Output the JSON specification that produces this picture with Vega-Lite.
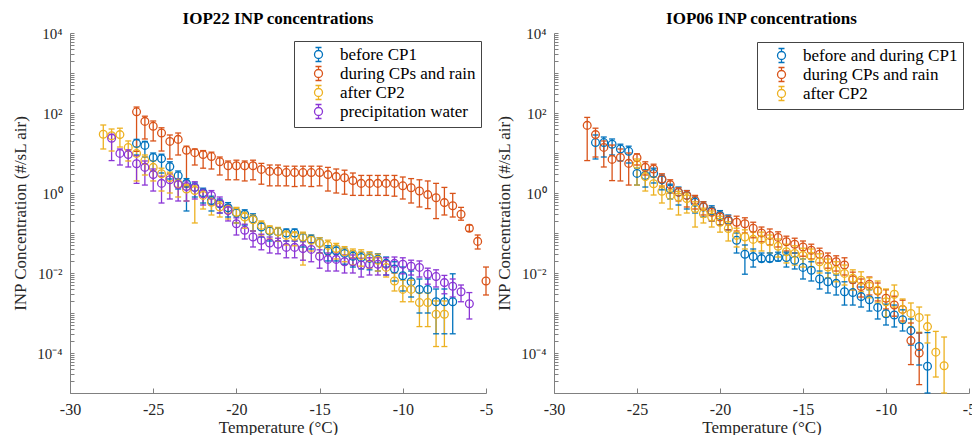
{
 "$schema": "https://vega.github.io/schema/vega-lite/v6.json",
 "background": "white",
 "padding": {"left": 11, "top": 10, "right": 0, "bottom": 0},
 "spacing": 2,
 "config": {
  "view": {"stroke": null},
  "font": "Liberation Serif",
  "title": {"font": "Liberation Serif", "fontSize": 17, "fontWeight": "bold", "color": "#000000", "offset": -2, "anchor": "middle"},
  "axis": {"domainColor": "#808080", "tickColor": "#808080", "domainWidth": 1, "tickWidth": 1, "labelColor": "#262626", "titleColor": "#262626", "labelFont": "Liberation Serif", "titleFont": "Liberation Serif", "labelFontSize": 16, "titleFontSize": 17, "titleFontWeight": "normal", "grid": false, "labelOverlap": false, "labelFlush": false}
 },
 "resolve": {"scale": {"color": "independent"}, "legend": {"color": "independent"}},
 "datasets": {
  "iop22": [
   {"s":"before CP1","t":-26,"v":17.4,"lo":8.91,"hi":21.9},
   {"s":"before CP1","t":-25.5,"v":15.5,"lo":7.94,"hi":19.5},
   {"s":"before CP1","t":-25,"v":7.76,"lo":3.55,"hi":10.0},
   {"s":"before CP1","t":-24.5,"v":7.24,"lo":3.16,"hi":9.33},
   {"s":"before CP1","t":-24,"v":4.57,"lo":2.24,"hi":6.03},
   {"s":"before CP1","t":-23.5,"v":2.69,"lo":1.26,"hi":3.55},
   {"s":"before CP1","t":-23,"v":1.74,"lo":0.355,"hi":2.29},
   {"s":"before CP1","t":-22.5,"v":1.38,"lo":0.794,"hi":1.78},
   {"s":"before CP1","t":-22,"v":1.02,"lo":0.562,"hi":1.32},
   {"s":"before CP1","t":-21.5,"v":0.646,"lo":0.355,"hi":0.832},
   {"s":"before CP1","t":-21,"v":0.537,"lo":0.316,"hi":0.708},
   {"s":"before CP1","t":-20.5,"v":0.427,"lo":0.251,"hi":0.575},
   {"s":"before CP1","t":-20,"v":0.316,"lo":0.178,"hi":0.417},
   {"s":"before CP1","t":-19.5,"v":0.295,"lo":0.158,"hi":0.380},
   {"s":"before CP1","t":-19,"v":0.224,"lo":0.112,"hi":0.302},
   {"s":"before CP1","t":-18.5,"v":0.141,"lo":0.0794,"hi":0.178},
   {"s":"before CP1","t":-18,"v":0.112,"lo":0.0631,"hi":0.141},
   {"s":"before CP1","t":-17.5,"v":0.107,"lo":0.0631,"hi":0.135},
   {"s":"before CP1","t":-17,"v":0.100,"lo":0.0631,"hi":0.126},
   {"s":"before CP1","t":-16.5,"v":0.100,"lo":0.0631,"hi":0.126},
   {"s":"before CP1","t":-16,"v":0.0776,"lo":0.0447,"hi":0.100},
   {"s":"before CP1","t":-15.5,"v":0.0692,"lo":0.0398,"hi":0.0891},
   {"s":"before CP1","t":-15,"v":0.0562,"lo":0.0316,"hi":0.0759},
   {"s":"before CP1","t":-14.5,"v":0.0355,"lo":0.0200,"hi":0.0479},
   {"s":"before CP1","t":-14,"v":0.0355,"lo":0.0200,"hi":0.0479},
   {"s":"before CP1","t":-13.5,"v":0.0309,"lo":0.0166,"hi":0.0417},
   {"s":"before CP1","t":-13,"v":0.0263,"lo":0.0141,"hi":0.0355},
   {"s":"before CP1","t":-12.5,"v":0.0245,"lo":0.0126,"hi":0.0331},
   {"s":"before CP1","t":-12,"v":0.0234,"lo":0.0120,"hi":0.0316},
   {"s":"before CP1","t":-11.5,"v":0.0219,"lo":0.0112,"hi":0.0302},
   {"s":"before CP1","t":-11,"v":0.0174,"lo":0.00891,"hi":0.0251},
   {"s":"before CP1","t":-10.5,"v":0.0126,"lo":0.00631,"hi":0.0191},
   {"s":"before CP1","t":-10,"v":0.00851,"lo":0.00355,"hi":0.0141},
   {"s":"before CP1","t":-9.5,"v":0.00603,"lo":0.00251,"hi":0.0112},
   {"s":"before CP1","t":-9,"v":0.00389,"lo":0.00100,"hi":0.00708},
   {"s":"before CP1","t":-8.5,"v":0.00389,"lo":0.00100,"hi":0.00708},
   {"s":"before CP1","t":-8,"v":0.00191,"lo":0.000302,"hi":0.00398},
   {"s":"before CP1","t":-7.5,"v":0.00191,"lo":0.000302,"hi":0.00398},
   {"s":"before CP1","t":-7,"v":0.00191,"lo":0.000302,"hi":0.00955},
   {"s":"during CPs and rain","t":-26,"v":107,"lo":11.0,"hi":141},
   {"s":"during CPs and rain","t":-25.5,"v":61.7,"lo":22.4,"hi":83.2},
   {"s":"during CPs and rain","t":-25,"v":46.8,"lo":20.0,"hi":63.1},
   {"s":"during CPs and rain","t":-24.5,"v":31.6,"lo":11.2,"hi":42.7},
   {"s":"during CPs and rain","t":-24,"v":19.5,"lo":7.08,"hi":28.2},
   {"s":"during CPs and rain","t":-23.5,"v":21.9,"lo":8.91,"hi":31.6},
   {"s":"during CPs and rain","t":-23,"v":11.7,"lo":1.41,"hi":14.8},
   {"s":"during CPs and rain","t":-22.5,"v":10.2,"lo":5.01,"hi":12.6},
   {"s":"during CPs and rain","t":-22,"v":9.12,"lo":4.17,"hi":11.5},
   {"s":"during CPs and rain","t":-21.5,"v":8.13,"lo":3.98,"hi":10.5},
   {"s":"during CPs and rain","t":-21,"v":6.03,"lo":2.82,"hi":7.94},
   {"s":"during CPs and rain","t":-20.5,"v":4.79,"lo":2.14,"hi":6.31},
   {"s":"during CPs and rain","t":-20,"v":4.79,"lo":2.14,"hi":6.61},
   {"s":"during CPs and rain","t":-19.5,"v":4.79,"lo":2.00,"hi":6.31},
   {"s":"during CPs and rain","t":-19,"v":4.79,"lo":2.14,"hi":6.61},
   {"s":"during CPs and rain","t":-18.5,"v":3.89,"lo":1.66,"hi":5.50},
   {"s":"during CPs and rain","t":-18,"v":3.47,"lo":1.51,"hi":5.01},
   {"s":"during CPs and rain","t":-17.5,"v":3.47,"lo":1.51,"hi":5.01},
   {"s":"during CPs and rain","t":-17,"v":3.24,"lo":1.51,"hi":4.68},
   {"s":"during CPs and rain","t":-16.5,"v":3.24,"lo":1.45,"hi":4.68},
   {"s":"during CPs and rain","t":-16,"v":3.24,"lo":1.51,"hi":4.68},
   {"s":"during CPs and rain","t":-15.5,"v":3.24,"lo":1.45,"hi":4.68},
   {"s":"during CPs and rain","t":-15,"v":3.24,"lo":1.51,"hi":4.68},
   {"s":"during CPs and rain","t":-14.5,"v":2.88,"lo":1.12,"hi":4.37},
   {"s":"during CPs and rain","t":-14,"v":2.57,"lo":1.00,"hi":3.98},
   {"s":"during CPs and rain","t":-13.5,"v":2.40,"lo":0.933,"hi":3.72},
   {"s":"during CPs and rain","t":-13,"v":2.04,"lo":0.871,"hi":3.16},
   {"s":"during CPs and rain","t":-12.5,"v":1.74,"lo":0.871,"hi":2.75},
   {"s":"during CPs and rain","t":-12,"v":1.74,"lo":0.871,"hi":2.75},
   {"s":"during CPs and rain","t":-11.5,"v":1.74,"lo":0.871,"hi":2.75},
   {"s":"during CPs and rain","t":-11,"v":1.74,"lo":0.871,"hi":2.75},
   {"s":"during CPs and rain","t":-10.5,"v":1.74,"lo":0.832,"hi":2.75},
   {"s":"during CPs and rain","t":-10,"v":1.51,"lo":0.708,"hi":2.51},
   {"s":"during CPs and rain","t":-9.5,"v":1.35,"lo":0.562,"hi":2.29},
   {"s":"during CPs and rain","t":-9,"v":1.12,"lo":0.447,"hi":2.14},
   {"s":"during CPs and rain","t":-8.5,"v":0.912,"lo":0.407,"hi":2.00},
   {"s":"during CPs and rain","t":-8,"v":0.759,"lo":0.229,"hi":1.74},
   {"s":"during CPs and rain","t":-7.5,"v":0.575,"lo":0.282,"hi":1.38},
   {"s":"during CPs and rain","t":-7,"v":0.479,"lo":0.251,"hi":0.977},
   {"s":"during CPs and rain","t":-6.5,"v":0.295,"lo":0.209,"hi":0.437},
   {"s":"during CPs and rain","t":-6,"v":0.132,"lo":0.110,"hi":0.158},
   {"s":"during CPs and rain","t":-5.5,"v":0.0617,"lo":0.0398,"hi":0.0891},
   {"s":"during CPs and rain","t":-5,"v":0.00631,"lo":0.00282,"hi":0.0141},
   {"s":"after CP2","t":-28,"v":29.5,"lo":12.6,"hi":50.1},
   {"s":"after CP2","t":-27.5,"v":26.9,"lo":11.2,"hi":39.8},
   {"s":"after CP2","t":-27,"v":28.8,"lo":14.1,"hi":41.7},
   {"s":"after CP2","t":-26.5,"v":13.8,"lo":6.31,"hi":20.0},
   {"s":"after CP2","t":-26,"v":9.77,"lo":2.00,"hi":14.1},
   {"s":"after CP2","t":-25.5,"v":6.46,"lo":2.82,"hi":8.91},
   {"s":"after CP2","t":-25,"v":4.37,"lo":2.00,"hi":6.31},
   {"s":"after CP2","t":-24.5,"v":3.02,"lo":1.12,"hi":4.17},
   {"s":"after CP2","t":-24,"v":2.45,"lo":1.00,"hi":3.31},
   {"s":"after CP2","t":-23.5,"v":1.70,"lo":0.794,"hi":2.29},
   {"s":"after CP2","t":-23,"v":1.26,"lo":0.631,"hi":1.66},
   {"s":"after CP2","t":-22.5,"v":1.15,"lo":0.178,"hi":1.51},
   {"s":"after CP2","t":-22,"v":0.871,"lo":0.398,"hi":1.15},
   {"s":"after CP2","t":-21.5,"v":0.589,"lo":0.282,"hi":0.794},
   {"s":"after CP2","t":-21,"v":0.447,"lo":0.251,"hi":0.603},
   {"s":"after CP2","t":-20.5,"v":0.380,"lo":0.224,"hi":0.501},
   {"s":"after CP2","t":-20,"v":0.331,"lo":0.178,"hi":0.437},
   {"s":"after CP2","t":-19.5,"v":0.251,"lo":0.132,"hi":0.331},
   {"s":"after CP2","t":-19,"v":0.214,"lo":0.112,"hi":0.282},
   {"s":"after CP2","t":-18.5,"v":0.155,"lo":0.0891,"hi":0.200},
   {"s":"after CP2","t":-18,"v":0.117,"lo":0.0708,"hi":0.151},
   {"s":"after CP2","t":-17.5,"v":0.107,"lo":0.0631,"hi":0.138},
   {"s":"after CP2","t":-17,"v":0.0871,"lo":0.0501,"hi":0.112},
   {"s":"after CP2","t":-16.5,"v":0.0832,"lo":0.0479,"hi":0.107},
   {"s":"after CP2","t":-16,"v":0.0794,"lo":0.0158,"hi":0.105},
   {"s":"after CP2","t":-15.5,"v":0.0661,"lo":0.0355,"hi":0.0871},
   {"s":"after CP2","t":-15,"v":0.0562,"lo":0.0316,"hi":0.0759},
   {"s":"after CP2","t":-14.5,"v":0.0490,"lo":0.0282,"hi":0.0661},
   {"s":"after CP2","t":-14,"v":0.0407,"lo":0.0224,"hi":0.0550},
   {"s":"after CP2","t":-13.5,"v":0.0339,"lo":0.0191,"hi":0.0457},
   {"s":"after CP2","t":-13,"v":0.0295,"lo":0.0158,"hi":0.0398},
   {"s":"after CP2","t":-12.5,"v":0.0275,"lo":0.0148,"hi":0.0380},
   {"s":"after CP2","t":-12,"v":0.0245,"lo":0.0132,"hi":0.0339},
   {"s":"after CP2","t":-11.5,"v":0.0209,"lo":0.0112,"hi":0.0295},
   {"s":"after CP2","t":-11,"v":0.0138,"lo":0.00794,"hi":0.0200},
   {"s":"after CP2","t":-10.5,"v":0.00631,"lo":0.00355,"hi":0.0100},
   {"s":"after CP2","t":-10,"v":0.00389,"lo":0.00191,"hi":0.00661},
   {"s":"after CP2","t":-9.5,"v":0.00389,"lo":0.00191,"hi":0.00661},
   {"s":"after CP2","t":-9,"v":0.00182,"lo":0.000457,"hi":0.00316},
   {"s":"after CP2","t":-8.5,"v":0.00182,"lo":0.000457,"hi":0.00316},
   {"s":"after CP2","t":-8,"v":0.000933,"lo":0.000145,"hi":0.00200},
   {"s":"after CP2","t":-7.5,"v":0.000933,"lo":0.000145,"hi":0.00200},
   {"s":"precipitation water","t":-27.5,"v":23.4,"lo":6.46,"hi":29.5},
   {"s":"precipitation water","t":-27,"v":9.77,"lo":5.01,"hi":12.6},
   {"s":"precipitation water","t":-26.5,"v":9.12,"lo":4.47,"hi":12.0},
   {"s":"precipitation water","t":-26,"v":5.37,"lo":1.74,"hi":8.51},
   {"s":"precipitation water","t":-25.5,"v":4.37,"lo":1.58,"hi":6.31},
   {"s":"precipitation water","t":-25,"v":2.88,"lo":1.12,"hi":3.98},
   {"s":"precipitation water","t":-24.5,"v":1.74,"lo":0.562,"hi":2.63},
   {"s":"precipitation water","t":-24,"v":2.14,"lo":0.708,"hi":3.02},
   {"s":"precipitation water","t":-23.5,"v":1.62,"lo":0.631,"hi":2.24},
   {"s":"precipitation water","t":-23,"v":1.45,"lo":0.631,"hi":2.00},
   {"s":"precipitation water","t":-22.5,"v":1.38,"lo":0.708,"hi":1.91},
   {"s":"precipitation water","t":-22,"v":0.955,"lo":0.501,"hi":1.26},
   {"s":"precipitation water","t":-21.5,"v":0.871,"lo":0.501,"hi":1.15},
   {"s":"precipitation water","t":-21,"v":0.562,"lo":0.316,"hi":0.794},
   {"s":"precipitation water","t":-20.5,"v":0.363,"lo":0.200,"hi":0.501},
   {"s":"precipitation water","t":-20,"v":0.170,"lo":0.0891,"hi":0.240},
   {"s":"precipitation water","t":-19.5,"v":0.117,"lo":0.0708,"hi":0.166},
   {"s":"precipitation water","t":-19,"v":0.0794,"lo":0.0447,"hi":0.112},
   {"s":"precipitation water","t":-18.5,"v":0.0661,"lo":0.0380,"hi":0.0933},
   {"s":"precipitation water","t":-18,"v":0.0562,"lo":0.0316,"hi":0.0794},
   {"s":"precipitation water","t":-17.5,"v":0.0525,"lo":0.0302,"hi":0.0741},
   {"s":"precipitation water","t":-17,"v":0.0437,"lo":0.0240,"hi":0.0631},
   {"s":"precipitation water","t":-16.5,"v":0.0437,"lo":0.0240,"hi":0.0631},
   {"s":"precipitation water","t":-16,"v":0.0407,"lo":0.0209,"hi":0.0603},
   {"s":"precipitation water","t":-15.5,"v":0.0389,"lo":0.0191,"hi":0.0575},
   {"s":"precipitation water","t":-15,"v":0.0263,"lo":0.0132,"hi":0.0380},
   {"s":"precipitation water","t":-14.5,"v":0.0219,"lo":0.0112,"hi":0.0316},
   {"s":"precipitation water","t":-14,"v":0.0219,"lo":0.0112,"hi":0.0316},
   {"s":"precipitation water","t":-13.5,"v":0.0191,"lo":0.0100,"hi":0.0282},
   {"s":"precipitation water","t":-13,"v":0.0191,"lo":0.0100,"hi":0.0282},
   {"s":"precipitation water","t":-12.5,"v":0.0158,"lo":0.00794,"hi":0.0234},
   {"s":"precipitation water","t":-12,"v":0.0166,"lo":0.00891,"hi":0.0240},
   {"s":"precipitation water","t":-11.5,"v":0.0166,"lo":0.00891,"hi":0.0240},
   {"s":"precipitation water","t":-11,"v":0.0166,"lo":0.00891,"hi":0.0240},
   {"s":"precipitation water","t":-10.5,"v":0.0174,"lo":0.0100,"hi":0.0251},
   {"s":"precipitation water","t":-10,"v":0.0166,"lo":0.00955,"hi":0.0240},
   {"s":"precipitation water","t":-9.5,"v":0.0148,"lo":0.00891,"hi":0.0209},
   {"s":"precipitation water","t":-9,"v":0.0138,"lo":0.00794,"hi":0.0200},
   {"s":"precipitation water","t":-8.5,"v":0.00933,"lo":0.00525,"hi":0.0132},
   {"s":"precipitation water","t":-8,"v":0.00813,"lo":0.00447,"hi":0.0120},
   {"s":"precipitation water","t":-7.5,"v":0.00575,"lo":0.00302,"hi":0.00871},
   {"s":"precipitation water","t":-7,"v":0.00468,"lo":0.00251,"hi":0.00708},
   {"s":"precipitation water","t":-6.5,"v":0.00339,"lo":0.00191,"hi":0.00501},
   {"s":"precipitation water","t":-6,"v":0.00170,"lo":0.000708,"hi":0.00324}
  ],
  "iop06": [
   {"s":"before and during CP1","t":-27.5,"v":18.2,"lo":7.08,"hi":28.2},
   {"s":"before and during CP1","t":-27,"v":18.2,"lo":7.94,"hi":25.1},
   {"s":"before and during CP1","t":-26.5,"v":16.6,"lo":8.91,"hi":22.4},
   {"s":"before and during CP1","t":-26,"v":12.6,"lo":6.31,"hi":16.6},
   {"s":"before and during CP1","t":-25.5,"v":11.0,"lo":5.62,"hi":14.8},
   {"s":"before and during CP1","t":-25,"v":3.09,"lo":1.58,"hi":4.17},
   {"s":"before and during CP1","t":-24.5,"v":2.75,"lo":1.41,"hi":3.80},
   {"s":"before and during CP1","t":-24,"v":3.09,"lo":1.78,"hi":4.17},
   {"s":"before and during CP1","t":-23.5,"v":2.14,"lo":1.20,"hi":2.82},
   {"s":"before and during CP1","t":-23,"v":1.26,"lo":0.708,"hi":1.66},
   {"s":"before and during CP1","t":-22.5,"v":1.05,"lo":0.501,"hi":1.41},
   {"s":"before and during CP1","t":-22,"v":0.871,"lo":0.398,"hi":1.15},
   {"s":"before and during CP1","t":-21.5,"v":0.589,"lo":0.316,"hi":0.794},
   {"s":"before and during CP1","t":-21,"v":0.447,"lo":0.251,"hi":0.603},
   {"s":"before and during CP1","t":-20.5,"v":0.355,"lo":0.200,"hi":0.479},
   {"s":"before and during CP1","t":-20,"v":0.275,"lo":0.158,"hi":0.363},
   {"s":"before and during CP1","t":-19.5,"v":0.209,"lo":0.120,"hi":0.282},
   {"s":"before and during CP1","t":-19,"v":0.0661,"lo":0.0316,"hi":0.100},
   {"s":"before and during CP1","t":-18.5,"v":0.0295,"lo":0.00933,"hi":0.0501},
   {"s":"before and during CP1","t":-18,"v":0.0257,"lo":0.0141,"hi":0.0398},
   {"s":"before and during CP1","t":-17.5,"v":0.0229,"lo":0.0191,"hi":0.0316},
   {"s":"before and during CP1","t":-17,"v":0.0229,"lo":0.0191,"hi":0.0316},
   {"s":"before and during CP1","t":-16.5,"v":0.0245,"lo":0.0200,"hi":0.0331},
   {"s":"before and during CP1","t":-16,"v":0.0245,"lo":0.0141,"hi":0.0331},
   {"s":"before and during CP1","t":-15.5,"v":0.0209,"lo":0.0126,"hi":0.0316},
   {"s":"before and during CP1","t":-15,"v":0.0138,"lo":0.00708,"hi":0.0224},
   {"s":"before and during CP1","t":-14.5,"v":0.0117,"lo":0.00631,"hi":0.0191},
   {"s":"before and during CP1","t":-14,"v":0.00708,"lo":0.00398,"hi":0.0112},
   {"s":"before and during CP1","t":-13.5,"v":0.00603,"lo":0.00316,"hi":0.0100},
   {"s":"before and during CP1","t":-13,"v":0.00550,"lo":0.00282,"hi":0.00891},
   {"s":"before and during CP1","t":-12.5,"v":0.00339,"lo":0.00158,"hi":0.00603},
   {"s":"before and during CP1","t":-12,"v":0.00324,"lo":0.00158,"hi":0.00562},
   {"s":"before and during CP1","t":-11.5,"v":0.00257,"lo":0.00141,"hi":0.00447},
   {"s":"before and during CP1","t":-11,"v":0.00214,"lo":0.00112,"hi":0.00380},
   {"s":"before and during CP1","t":-10.5,"v":0.00138,"lo":0.000708,"hi":0.00240},
   {"s":"before and during CP1","t":-10,"v":0.000955,"lo":0.000501,"hi":0.00166},
   {"s":"before and during CP1","t":-9.5,"v":0.000891,"lo":0.000447,"hi":0.00158},
   {"s":"before and during CP1","t":-9,"v":0.000676,"lo":0.000355,"hi":0.00120},
   {"s":"before and during CP1","t":-8.5,"v":0.000363,"lo":0.000158,"hi":0.000708},
   {"s":"before and during CP1","t":-8,"v":0.000145,"lo":0.0000501,"hi":0.000316},
   {"s":"before and during CP1","t":-7.5,"v":0.0000468,"lo":0.00001,"hi":0.000324},
   {"s":"during CPs and rain","t":-28,"v":49.0,"lo":6.46,"hi":77.6},
   {"s":"during CPs and rain","t":-27.5,"v":28.8,"lo":7.94,"hi":41.7},
   {"s":"during CPs and rain","t":-27,"v":13.8,"lo":4.47,"hi":20.0},
   {"s":"during CPs and rain","t":-26.5,"v":6.92,"lo":2.04,"hi":15.8},
   {"s":"during CPs and rain","t":-26,"v":7.76,"lo":2.00,"hi":12.6},
   {"s":"during CPs and rain","t":-25.5,"v":5.50,"lo":1.58,"hi":10.0},
   {"s":"during CPs and rain","t":-25,"v":7.59,"lo":5.01,"hi":9.55},
   {"s":"during CPs and rain","t":-24.5,"v":4.37,"lo":2.82,"hi":6.03},
   {"s":"during CPs and rain","t":-24,"v":3.98,"lo":2.51,"hi":5.25},
   {"s":"during CPs and rain","t":-23.5,"v":2.24,"lo":1.41,"hi":3.02},
   {"s":"during CPs and rain","t":-23,"v":1.62,"lo":1.00,"hi":2.14},
   {"s":"during CPs and rain","t":-22.5,"v":1.05,"lo":0.631,"hi":1.35},
   {"s":"during CPs and rain","t":-22,"v":0.871,"lo":0.447,"hi":1.15},
   {"s":"during CPs and rain","t":-21.5,"v":0.646,"lo":0.398,"hi":0.871},
   {"s":"during CPs and rain","t":-21,"v":0.457,"lo":0.282,"hi":0.603},
   {"s":"during CPs and rain","t":-20.5,"v":0.331,"lo":0.200,"hi":0.437},
   {"s":"during CPs and rain","t":-20,"v":0.251,"lo":0.158,"hi":0.331},
   {"s":"during CPs and rain","t":-19.5,"v":0.200,"lo":0.120,"hi":0.269},
   {"s":"during CPs and rain","t":-19,"v":0.186,"lo":0.112,"hi":0.263},
   {"s":"during CPs and rain","t":-18.5,"v":0.170,"lo":0.100,"hi":0.240},
   {"s":"during CPs and rain","t":-18,"v":0.132,"lo":0.0759,"hi":0.186},
   {"s":"during CPs and rain","t":-17.5,"v":0.100,"lo":0.0603,"hi":0.141},
   {"s":"during CPs and rain","t":-17,"v":0.0871,"lo":0.0501,"hi":0.126},
   {"s":"during CPs and rain","t":-16.5,"v":0.0776,"lo":0.0447,"hi":0.107},
   {"s":"during CPs and rain","t":-16,"v":0.0603,"lo":0.0355,"hi":0.0832},
   {"s":"during CPs and rain","t":-15.5,"v":0.0525,"lo":0.0316,"hi":0.0741},
   {"s":"during CPs and rain","t":-15,"v":0.0447,"lo":0.0263,"hi":0.0631},
   {"s":"during CPs and rain","t":-14.5,"v":0.0372,"lo":0.0224,"hi":0.0525},
   {"s":"during CPs and rain","t":-14,"v":0.0295,"lo":0.0178,"hi":0.0417},
   {"s":"during CPs and rain","t":-13.5,"v":0.0219,"lo":0.0132,"hi":0.0316},
   {"s":"during CPs and rain","t":-13,"v":0.0191,"lo":0.0112,"hi":0.0269},
   {"s":"during CPs and rain","t":-12.5,"v":0.0158,"lo":0.00891,"hi":0.0240},
   {"s":"during CPs and rain","t":-12,"v":0.00676,"lo":0.00380,"hi":0.0105},
   {"s":"during CPs and rain","t":-11.5,"v":0.00457,"lo":0.00251,"hi":0.00708},
   {"s":"during CPs and rain","t":-11,"v":0.00525,"lo":0.00282,"hi":0.00794},
   {"s":"during CPs and rain","t":-10.5,"v":0.00355,"lo":0.00200,"hi":0.00562},
   {"s":"during CPs and rain","t":-10,"v":0.00234,"lo":0.00126,"hi":0.00380},
   {"s":"during CPs and rain","t":-9.5,"v":0.00158,"lo":0.000832,"hi":0.00263},
   {"s":"during CPs and rain","t":-9,"v":0.00123,"lo":0.000631,"hi":0.00209},
   {"s":"during CPs and rain","t":-8.5,"v":0.000204,"lo":0.0000513,"hi":0.000562},
   {"s":"during CPs and rain","t":-8,"v":0.000100,"lo":0.0000162,"hi":0.000316},
   {"s":"after CP2","t":-25,"v":5.13,"lo":1.58,"hi":7.08},
   {"s":"after CP2","t":-24.5,"v":2.57,"lo":1.12,"hi":3.55},
   {"s":"after CP2","t":-24,"v":1.70,"lo":0.891,"hi":2.51},
   {"s":"after CP2","t":-23.5,"v":1.10,"lo":0.562,"hi":1.51},
   {"s":"after CP2","t":-23,"v":0.871,"lo":0.398,"hi":1.20},
   {"s":"after CP2","t":-22.5,"v":0.794,"lo":0.282,"hi":1.10},
   {"s":"after CP2","t":-22,"v":0.724,"lo":0.316,"hi":1.00},
   {"s":"after CP2","t":-21.5,"v":0.407,"lo":0.141,"hi":0.603},
   {"s":"after CP2","t":-21,"v":0.302,"lo":0.178,"hi":0.417},
   {"s":"after CP2","t":-20.5,"v":0.251,"lo":0.141,"hi":0.355},
   {"s":"after CP2","t":-20,"v":0.186,"lo":0.105,"hi":0.263},
   {"s":"after CP2","t":-19.5,"v":0.129,"lo":0.0631,"hi":0.191},
   {"s":"after CP2","t":-19,"v":0.0871,"lo":0.0447,"hi":0.132},
   {"s":"after CP2","t":-18.5,"v":0.0794,"lo":0.0398,"hi":0.120},
   {"s":"after CP2","t":-18,"v":0.0692,"lo":0.0355,"hi":0.105},
   {"s":"after CP2","t":-17.5,"v":0.0692,"lo":0.0355,"hi":0.105},
   {"s":"after CP2","t":-17,"v":0.0603,"lo":0.0316,"hi":0.0891},
   {"s":"after CP2","t":-16.5,"v":0.0468,"lo":0.0251,"hi":0.0708},
   {"s":"after CP2","t":-16,"v":0.0339,"lo":0.0178,"hi":0.0525},
   {"s":"after CP2","t":-15.5,"v":0.0309,"lo":0.0158,"hi":0.0479},
   {"s":"after CP2","t":-15,"v":0.0275,"lo":0.0141,"hi":0.0417},
   {"s":"after CP2","t":-14.5,"v":0.0263,"lo":0.0141,"hi":0.0398},
   {"s":"after CP2","t":-14,"v":0.0191,"lo":0.0100,"hi":0.0302},
   {"s":"after CP2","t":-13.5,"v":0.0141,"lo":0.00759,"hi":0.0224},
   {"s":"after CP2","t":-13,"v":0.0117,"lo":0.00603,"hi":0.0191},
   {"s":"after CP2","t":-12.5,"v":0.00977,"lo":0.00501,"hi":0.0158},
   {"s":"after CP2","t":-12,"v":0.00741,"lo":0.00380,"hi":0.0120},
   {"s":"after CP2","t":-11.5,"v":0.00661,"lo":0.00339,"hi":0.0107},
   {"s":"after CP2","t":-11,"v":0.00468,"lo":0.00240,"hi":0.00759},
   {"s":"after CP2","t":-10.5,"v":0.00372,"lo":0.00178,"hi":0.00631},
   {"s":"after CP2","t":-10,"v":0.00191,"lo":0.000794,"hi":0.00398},
   {"s":"after CP2","t":-9.5,"v":0.00295,"lo":0.00141,"hi":0.00501},
   {"s":"after CP2","t":-9,"v":0.00123,"lo":0.000562,"hi":0.00224},
   {"s":"after CP2","t":-8.5,"v":0.000977,"lo":0.000447,"hi":0.00178},
   {"s":"after CP2","t":-8,"v":0.000776,"lo":0.000331,"hi":0.00141},
   {"s":"after CP2","t":-7.5,"v":0.000457,"lo":0.000178,"hi":0.000891},
   {"s":"after CP2","t":-7,"v":0.000105,"lo":0.0000251,"hi":0.000347},
   {"s":"after CP2","t":-6.5,"v":0.0000479,"lo":0.00001,"hi":0.000251}
  ]
 },
 "hconcat": [
  {
   "width": 416, "height": 360,
   "title": {"text": "IOP22 INP concentrations"},
   "data": {"name": "iop22"},
   "encoding": {
    "x": {"field": "t", "type": "quantitative", "scale": {"domain": [-30, -5], "nice": false, "zero": false},
          "axis": {"title": "Temperature (°C)", "values": [-30, -25, -20, -15, -10, -5], "labelExpr": "'' + datum.value", "tickSize": -5, "labelPadding": 13, "titlePadding": 2}},
    "color": {"field": "s", "type": "nominal",
              "scale": {"domain": ["before CP1", "during CPs and rain", "after CP2", "precipitation water"], "range": ["#0072BD", "#D95319", "#EDB120", "#8B35D6"]},
              "legend": {"orient": "none", "legendX": 224, "legendY": 8, "title": null,
                         "symbolType": "M-0.57,0 A0.57,0.57 0 1,0 0.57,0 A0.57,0.57 0 1,0 -0.57,0 M0,-1 L0,-0.57 M0,0.57 L0,1 M-0.43,-1 L0.43,-1 M-0.43,1 L0.43,1",
                         "symbolSize": 196, "symbolStrokeWidth": 1.3, "symbolFillColor": "transparent",
                         "labelFont": "Liberation Serif", "labelFontSize": 17, "labelColor": "#000000", "labelOffset": 13, "labelLimit": 300,
                         "strokeColor": "#444444", "fillColor": "white", "padding": 5, "rowPadding": -2, "symbolOffset": 11}}
   },
   "layer": [
    {"mark": {"type": "rule", "strokeWidth": 1.3},
     "encoding": {"y": {"field": "lo", "type": "quantitative", "scale": {"type": "log", "domain": [0.00001, 10000], "nice": false},
       "axis": {"title": "INP Concentration (#/sL air)", "tickSize": -4, "labelPadding": 12, "labelFontSize": 15, "titlePadding": 7,
                "values": [0.00001,0.00002,0.00003,0.00004,0.00005,0.00006,0.00007,0.00008,0.00009,0.0001,0.0002,0.0003,0.0004,0.0005,0.0006,0.0007,0.0008,0.0009,0.001,0.002,0.003,0.004,0.005,0.006,0.007,0.008,0.009,0.01,0.02,0.03,0.04,0.05,0.06,0.07,0.08,0.09,0.1,0.2,0.3,0.4,0.5,0.6,0.7,0.8,0.9,1,2,3,4,5,6,7,8,9,10,20,30,40,50,60,70,80,90,100,200,300,400,500,600,700,800,900,1000,2000,3000,4000,5000,6000,7000,8000,9000,10000],
                "labelExpr": "datum.value == 10000 ? '10⁴' : datum.value == 100 ? '10²' : datum.value == 1 ? '10⁰' : datum.value == 0.01 ? '10⁻²' : datum.value == 0.0001 ? '10⁻⁴' : ''"}},
       "y2": {"field": "hi"}}},
    {"mark": {"type": "point", "shape": "M-1,0L1,0", "filled": false, "size": 36, "strokeWidth": 1.3, "opacity": 1},
     "encoding": {"y": {"field": "lo", "type": "quantitative", "scale": {"type": "log", "domain": [0.00001, 10000], "nice": false}}}},
    {"mark": {"type": "point", "shape": "M-1,0L1,0", "filled": false, "size": 36, "strokeWidth": 1.3, "opacity": 1},
     "encoding": {"y": {"field": "hi", "type": "quantitative", "scale": {"type": "log", "domain": [0.00001, 10000], "nice": false}}}},
    {"mark": {"type": "point", "shape": "circle", "filled": false, "size": 60, "strokeWidth": 1.3, "opacity": 1},
     "encoding": {"y": {"field": "v", "type": "quantitative", "scale": {"type": "log", "domain": [0.00001, 10000], "nice": false}}}}
   ]
  },
  {
   "width": 415, "height": 360,
   "title": {"text": "IOP06 INP concentrations"},
   "data": {"name": "iop06"},
   "encoding": {
    "x": {"field": "t", "type": "quantitative", "scale": {"domain": [-30, -5], "nice": false, "zero": false},
          "axis": {"title": "Temperature (°C)", "values": [-30, -25, -20, -15, -10, -5], "labelExpr": "'' + datum.value", "tickSize": -5, "labelPadding": 13, "titlePadding": 2}},
    "color": {"field": "s", "type": "nominal",
              "scale": {"domain": ["before and during CP1", "during CPs and rain", "after CP2"], "range": ["#0072BD", "#D95319", "#EDB120"]},
              "legend": {"orient": "none", "legendX": 203, "legendY": 9, "title": null,
                         "symbolType": "M-0.57,0 A0.57,0.57 0 1,0 0.57,0 A0.57,0.57 0 1,0 -0.57,0 M0,-1 L0,-0.57 M0,0.57 L0,1 M-0.43,-1 L0.43,-1 M-0.43,1 L0.43,1",
                         "symbolSize": 196, "symbolStrokeWidth": 1.3, "symbolFillColor": "transparent",
                         "labelFont": "Liberation Serif", "labelFontSize": 17, "labelColor": "#000000", "labelOffset": 13, "labelLimit": 300,
                         "strokeColor": "#444444", "fillColor": "white", "padding": 5, "rowPadding": -2, "symbolOffset": 11}}
   },
   "layer": [
    {"mark": {"type": "rule", "strokeWidth": 1.3},
     "encoding": {"y": {"field": "lo", "type": "quantitative", "scale": {"type": "log", "domain": [0.00001, 10000], "nice": false},
       "axis": {"title": "INP Concentration (#/sL air)", "tickSize": -4, "labelPadding": 12, "labelFontSize": 15, "titlePadding": 7,
                "values": [0.00001,0.00002,0.00003,0.00004,0.00005,0.00006,0.00007,0.00008,0.00009,0.0001,0.0002,0.0003,0.0004,0.0005,0.0006,0.0007,0.0008,0.0009,0.001,0.002,0.003,0.004,0.005,0.006,0.007,0.008,0.009,0.01,0.02,0.03,0.04,0.05,0.06,0.07,0.08,0.09,0.1,0.2,0.3,0.4,0.5,0.6,0.7,0.8,0.9,1,2,3,4,5,6,7,8,9,10,20,30,40,50,60,70,80,90,100,200,300,400,500,600,700,800,900,1000,2000,3000,4000,5000,6000,7000,8000,9000,10000],
                "labelExpr": "datum.value == 10000 ? '10⁴' : datum.value == 100 ? '10²' : datum.value == 1 ? '10⁰' : datum.value == 0.01 ? '10⁻²' : datum.value == 0.0001 ? '10⁻⁴' : ''"}},
       "y2": {"field": "hi"}}},
    {"mark": {"type": "point", "shape": "M-1,0L1,0", "filled": false, "size": 36, "strokeWidth": 1.3, "opacity": 1},
     "encoding": {"y": {"field": "lo", "type": "quantitative", "scale": {"type": "log", "domain": [0.00001, 10000], "nice": false}}}},
    {"mark": {"type": "point", "shape": "M-1,0L1,0", "filled": false, "size": 36, "strokeWidth": 1.3, "opacity": 1},
     "encoding": {"y": {"field": "hi", "type": "quantitative", "scale": {"type": "log", "domain": [0.00001, 10000], "nice": false}}}},
    {"mark": {"type": "point", "shape": "circle", "filled": false, "size": 60, "strokeWidth": 1.3, "opacity": 1},
     "encoding": {"y": {"field": "v", "type": "quantitative", "scale": {"type": "log", "domain": [0.00001, 10000], "nice": false}}}}
   ]
  }
 ]
}
